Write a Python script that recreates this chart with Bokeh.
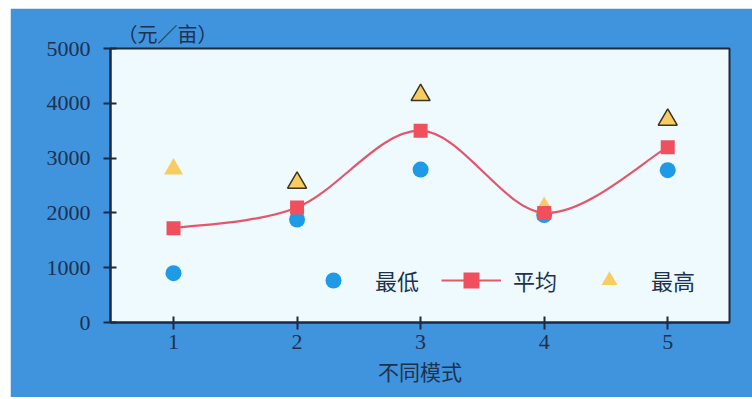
from bokeh.plotting import figure
from bokeh.models import Range1d, Legend, LegendItem, ColumnDataSource
from bokeh.embed import file_html
from bokeh.resources import INLINE

# ---- data ----
modes = [1, 2, 3, 4, 5]
lowest = [900, 1880, 2790, 1960, 2780]
mean = [1720, 2100, 3500, 2000, 3200]
highest = [2800, 2550, 4150, 2100, 3700]
high_outline = [0, 1, 1, 0, 1]
y_ticks = [0, 1000, 2000, 3000, 4000, 5000]
x_label = "不同模式"
y_unit = "（元／亩）"
series_names = ["最低", "平均", "最高"]

TEXT = "#1d3150"
AXIS = "#1b2a44"

p = figure(width=742, height=389, output_backend="svg", toolbar_location=None,
           x_range=Range1d(0.49, 5.5), y_range=Range1d(0, 5000),
           min_border_left=100, min_border_right=23, min_border_top=40,
           min_border_bottom=75,
           background_fill_color="#eefafd", border_fill_color="#4093dd")
p.margin = (8, 0, 0, 10)

p.title.text = y_unit
p.title.align = "left"
p.title.offset = 7
p.title.text_font = "Noto Sans CJK SC"
p.title.text_font_size = "20px"
p.title.text_font_style = "normal"
p.title.text_color = TEXT
p.title.standoff = 2

p.xgrid.visible = False
p.ygrid.visible = False
p.outline_line_color = AXIS
p.outline_line_width = 2

p.xaxis.ticker = modes
p.yaxis.ticker = y_ticks
for ax in (p.xaxis, p.yaxis):
    ax.axis_line_color = AXIS
    ax.axis_line_width = 2
    ax.major_tick_line_color = AXIS
    ax.major_tick_line_width = 2
    ax.major_tick_in = 6
    ax.major_tick_out = 7
    ax.minor_tick_line_color = None
    ax.major_label_text_font = "Liberation Serif"
    ax.major_label_text_font_size = "22px"
    ax.major_label_text_color = TEXT
p.yaxis.major_label_standoff = 13
p.xaxis.major_label_standoff = 5
p.xaxis.axis_label = x_label
p.xaxis.axis_label_text_font = "Noto Sans CJK SC"
p.xaxis.axis_label_text_font_size = "21px"
p.xaxis.axis_label_text_font_style = "normal"
p.xaxis.axis_label_text_color = TEXT
p.xaxis.axis_label_standoff = 4

# Catmull-Rom -> Bezier control points for the smoothed mean line
n = len(modes)
x0, y0, x1, y1, cx0, cy0, cx1, cy1 = ([] for _ in range(8))
for i in range(n - 1):
    pm = max(i - 1, 0)
    pn = min(i + 2, n - 1)
    x0.append(modes[i]); y0.append(mean[i])
    x1.append(modes[i + 1]); y1.append(mean[i + 1])
    cx0.append(modes[i] + (modes[i + 1] - modes[pm]) / 6)
    cy0.append(mean[i] + (mean[i + 1] - mean[pm]) / 6)
    cx1.append(modes[i + 1] - (modes[pn] - modes[i]) / 6)
    cy1.append(mean[i + 1] - (mean[pn] - mean[i]) / 6)

r_low = p.scatter(modes, lowest, marker="circle", size=16,
                  fill_color="#1e9ae6", line_color=None)

src_high = ColumnDataSource(dict(x=modes, y=highest, la=high_outline))
r_high = p.scatter("x", "y", source=src_high, marker="triangle", size=19,
                   fill_color="#f7cd62", line_color="#3b3424", line_alpha="la",
                   line_width=1.5)

curve = p.bezier(x0=x0, y0=y0, x1=x1, y1=y1, cx0=cx0, cy0=cy0, cx1=cx1, cy1=cy1,
                 line_color="#e5566a", line_width=2.2)
r_mean = p.scatter(modes, mean, marker="square", size=14,
                   fill_color="#f0505e", line_color=None)

legend = Legend(items=[
    LegendItem(label=series_names[0], renderers=[r_low]),
    LegendItem(label=series_names[1], renderers=[curve, r_mean]),
    LegendItem(label=series_names[2], renderers=[r_high], index=0),
], orientation="horizontal", location=(193, 22),
    background_fill_alpha=0, border_line_alpha=0,
    label_text_font="Noto Sans CJK SC", label_text_font_size="22px",
    label_text_color=TEXT, glyph_width=60, glyph_height=40,
    spacing=22, label_standoff=12, padding=0, margin=0)
p.add_layout(legend)

open("out.html", "w").write(file_html(p, INLINE))
